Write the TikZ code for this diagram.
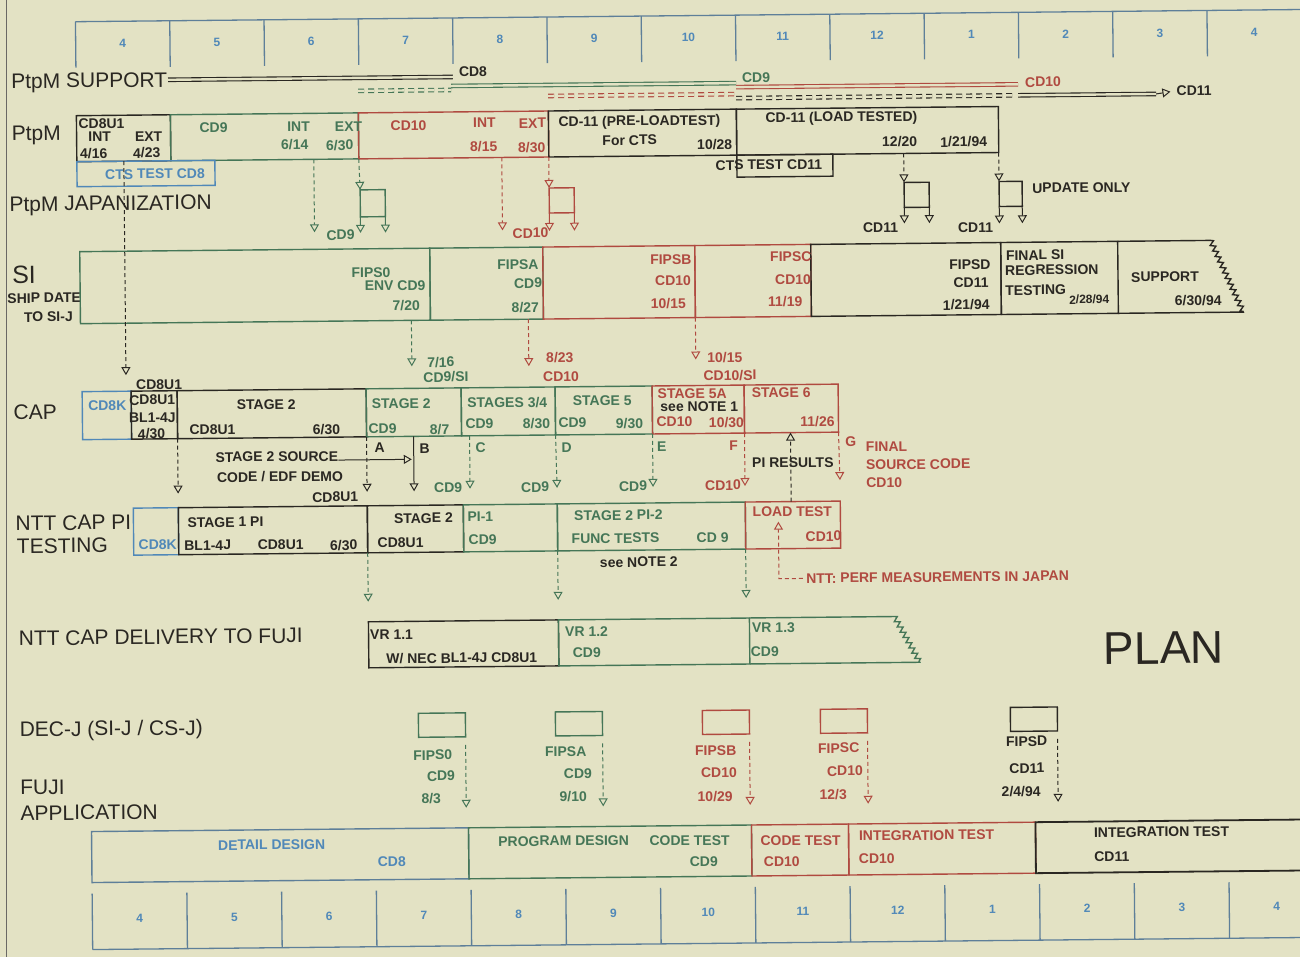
\documentclass[tikz,border=0pt]{standalone}
\usepackage{fontspec}
\setmainfont{Liberation Sans}
\usetikzlibrary{arrows.meta, calc, decorations.pathmorphing}
\definecolor{paper}{HTML}{E3E2C4}
\definecolor{inkDark}{HTML}{2A2722}
\definecolor{planGreen}{HTML}{457657}
\definecolor{planRed}{HTML}{B04A40}
\definecolor{planBlue}{HTML}{5088B8}
\definecolor{gridBlue}{HTML}{5E7F99}

\begin{document}
\begin{tikzpicture}[x=1pt, y=-1pt,
    seg/.style={rectangle, draw=#1, line width=1.4pt, inner sep=0pt,
                outer sep=0pt, anchor=north west},
    tx/.style={font=\fontsize{14}{15}\selectfont\bfseries, text=#1, inner sep=0pt},
    tx/.default=inkDark,
    row/.style={font=\fontsize{21}{23}\selectfont, text=inkDark, anchor=west,
                inner sep=0pt},
    mon/.style={font=\fontsize{12}{13}\selectfont\bfseries, text=planBlue,
                inner sep=0pt},
    lnk/.style={draw=#1, line width=1pt, dash pattern=on 4pt off 3pt,
                -{Triangle[open, length=8pt, width=9pt]}},
    arr/.style={draw=#1, line width=1pt,
                -{Triangle[open, length=8pt, width=9pt]}},
    dbl/.style={draw=#1, double=paper, double distance=2.4pt, line width=1.1pt},
    dbd/.style={dbl=#1, dash pattern=on 6pt off 4pt},
    zz/.style={decoration={zigzag, segment length=6pt, amplitude=2.5pt}},
  ]
  \useasboundingbox (0,0) rectangle (1300,957);
  \fill[paper] (0,0) rectangle (1300,957);
  \clip (0,0) rectangle (1300,957);
  \draw[inkDark!70, line width=1pt] (6,0) -- (6,957);

  \begin{scope}[rotate around={0.57:(650,478)}, transform shape]
  % month scales
  \draw[gridBlue, line width=1.3pt] (80,16) -- (1320,16);
  \foreach \m [count=\i from 0] in {4,5,6,7,8,9,10,11,12,1,2,3,4} {
    \draw[gridBlue, line width=1.3pt] ({80+94.3*\i},16) -- ({80+94.3*\i},62);
    \node[mon] (mt\i) at ({127+94.3*\i},38) {\m};
  }
  \draw[gridBlue, line width=1.3pt] (88,944) -- (1320,944);
  \foreach \m [count=\i from 0] in {4,5,6,7,8,9,10,11,12,1,2,3,4} {
    \draw[gridBlue, line width=1.3pt] ({88+94.75*\i},888) -- ({88+94.75*\i},944);
    \node[mon] (mb\i) at ({135.4+94.75*\i},913) {\m};
  }

  % row labels
  \node[row] (lsup) at (15,77) {PtpM SUPPORT};
  \node[row] (lptpm) at (15,129) {PtpM};
  \node[row] (ljap) at (12,200) {PtpM JAPANIZATION};
  \node[row, font=\fontsize{25}{26}\selectfont] (lsi) at (14,269) {SI};
  \node[tx] (lship) at (46,292) {SHIP DATE};
  \node[tx] (lto) at (50,311) {TO SI-J};
  \node[row] (lcap) at (14,406) {CAP};
  \node[row] (lntt) at (15,517) {NTT CAP PI};
  \node[row] (ltest) at (16,540) {TESTING};
  \node[row] (ldel) at (17,632) {NTT CAP DELIVERY TO FUJI};
  \node[row] (ldec) at (17,725) {DEC-J (SI-J / CS-J)};
  \node[row] (lfuji) at (17,781) {FUJI};
  \node[row] (lapp) at (17,807) {APPLICATION};
  \node[font=\fontsize{46}{48}\selectfont, text=inkDark, inner sep=0pt] (plan)
    at (1162,653) {PLAN};

  % PtpM support versions
  \coordinate (v8a) at (172,75);   \coordinate (v8b) at (457,75);
  \coordinate (v9a) at (362,88);   \coordinate (v9b) at (455,88);
  \coordinate (v9c) at (455,84);   \coordinate (v9d) at (740,84);
  \coordinate (v10a) at (552,95);  \coordinate (v10b) at (740,95);
  \coordinate (v10c) at (740,88);  \coordinate (v10d) at (1022,88);
  \coordinate (v11a) at (740,99);  \coordinate (v11b) at (1020,99);
  \coordinate (v11c) at (1022,99); \coordinate (v11d) at (1160,99);
  \draw[dbl=inkDark] (v8a) -- (v8b);
  \draw[dbd=planGreen] (v9a) -- (v9b);
  \draw[dbl=planGreen] (v9c) -- (v9d);
  \draw[dbd=planRed] (v10a) -- (v10b);
  \draw[dbl=planRed] (v10c) -- (v10d);
  \draw[dbd=inkDark] (v11a) -- (v11b);
  \draw[dbl=inkDark] (v11c) -- (v11d);
  \node[tx] (s8) at (477,70) {CD8};
  \node[tx=planGreen] (s9) at (760,79) {CD9};
  \node[tx=planRed] (s10) at (1047,86) {CD10};
  \node[tx] (s11) at (1198,96) {CD11};
  \draw[arr=inkDark, shorten >=6pt] (v11d) -- (s11.west);

  % PtpM
  \node[seg=inkDark, minimum width=94pt, minimum height=46pt] (pt1) at (80,110) {};
  \node[seg=planGreen, minimum width=188pt, minimum height=46pt] (pt2) at (174,110) {};
  \node[seg=planRed, minimum width=190pt, minimum height=46pt] (pt3) at (362,110) {};
  \node[seg=inkDark, minimum width=188pt, minimum height=46pt] (pt4) at (552,110) {};
  \node[seg=inkDark, minimum width=262pt, minimum height=46pt] (pt5) at (740,110) {};
  \node[seg=planBlue, minimum width=138pt, minimum height=25pt] (cts8) at (80,156) {};
  \node[seg=inkDark, minimum width=96pt, minimum height=22pt] (cts11) at (740,156) {};
  \node[tx] (p1a) at (105,118) {CD8U1};
  \node[tx] (p1b) at (103,131) {INT};
  \node[tx] (p1c) at (152,132) {EXT};
  \node[tx] (p1d) at (97,148) {4/16};
  \node[tx] (p1e) at (150,148) {4/23};
  \node[tx=planGreen] (p2a) at (217,123) {CD9};
  \node[tx=planGreen] (p2b) at (302,123) {INT};
  \node[tx=planGreen] (p2c) at (352,124) {EXT};
  \node[tx=planGreen] (p2d) at (298,141) {6/14};
  \node[tx=planGreen] (p2e) at (343,142) {6/30};
  \node[tx=planRed] (p3a) at (412,123) {CD10};
  \node[tx=planRed] (p3b) at (488,121) {INT};
  \node[tx=planRed] (p3c) at (536,122) {EXT};
  \node[tx=planRed] (p3d) at (487,145) {8/15};
  \node[tx=planRed] (p3e) at (535,146) {8/30};
  \node[tx] (p4a) at (643,122) {CD-11 (PRE-LOADTEST)};
  \node[tx] (p4b) at (633,140) {For CTS};
  \node[tx] (p4c) at (718,145) {10/28};
  \node[tx] (p5a) at (845,120) {CD-11 (LOAD TESTED)};
  \node[tx] (p5b) at (903,144) {12/20};
  \node[tx] (p5c) at (967,145) {1/21/94};
  \node[tx=planBlue] (c8t) at (158,169) {CTS TEST CD8};
  \node[tx] (c11t) at (772,166) {CTS TEST CD11};

  % PtpM japanization
  \node[seg=planGreen, minimum width=25pt, minimum height=27pt] (jp1) at (363,187) {};
  \node[seg=planRed, minimum width=25pt, minimum height=25pt] (jp2) at (552,187) {};
  \node[seg=inkDark, minimum width=25pt, minimum height=25pt] (jp3) at (907,185) {};
  \node[seg=inkDark, minimum width=23pt, minimum height=25pt] (jp4) at (1002,185) {};
  \coordinate (j9) at (317,229);
  \coordinate (j10) at (505,229);
  \coordinate (jg1) at (363,230);  \coordinate (jg2) at (388,230);
  \coordinate (jr1) at (552,230);  \coordinate (jr2) at (577,230);
  \coordinate (jk1) at (907,226);  \coordinate (jk2) at (932,226);
  \coordinate (ju1) at (1002,227); \coordinate (ju2) at (1025,227);
  \draw[lnk=planGreen] (pt2.south -| j9) -- (j9);
  \draw[lnk=planGreen] (pt3.south west) -- (jp1.north west);
  \draw[arr=planGreen] (jp1.south west) -- (jg1);
  \draw[arr=planGreen] (jp1.south east) -- (jg2);
  \draw[lnk=planRed] (pt3.south -| j10) -- (j10);
  \draw[lnk=planRed] (pt4.south west) -- (jp2.north west);
  \draw[arr=planRed] (jp2.south west) -- (jr1);
  \draw[arr=planRed] (jp2.south east) -- (jr2);
  \draw[lnk=inkDark] (pt5.south -| jp3.north west) -- (jp3.north west);
  \draw[arr=inkDark] (jp3.south west) -- (jk1);
  \draw[arr=inkDark] (jp3.south east) -- (jk2);
  \draw[lnk=inkDark] (pt5.south east) -- (jp4.north west);
  \draw[arr=inkDark] (jp4.south west) -- (ju1);
  \draw[arr=inkDark] (jp4.south east) -- (ju2);
  \node[tx=planGreen] (jl9) at (343,232) {CD9};
  \node[tx=planRed] (jl10) at (533,232) {CD10};
  \node[tx] (jl11a) at (883,230) {CD11};
  \node[tx] (jl11b) at (978,231) {CD11};
  \node[tx, anchor=west] (jupd) at (1035,192) {UPDATE ONLY};

  % SI
  \node[seg=planGreen, minimum width=350pt, minimum height=72pt] (si1) at (82,246) {};
  \node[seg=planGreen, minimum width=113pt, minimum height=72pt] (si2) at (432,246) {};
  \node[seg=planRed, minimum width=152pt, minimum height=72pt] (si3) at (545,246) {};
  \node[seg=planRed, minimum width=116pt, minimum height=72pt] (si4) at (697,246) {};
  \node[seg=inkDark, minimum width=190pt, minimum height=72pt] (si5) at (813,246) {};
  \node[seg=inkDark, minimum width=117pt, minimum height=72pt] (si6) at (1003,246) {};
  \coordinate (siz1) at (1213,246);
  \coordinate (siz2) at (1245,318);
  \draw[inkDark, line width=1.4pt] (si6.north east) -- (siz1)
    decorate[zz] {-- (siz2)} -- (si6.south east);
  \node[tx=planGreen] (f0a) at (373,270) {FIPS0};
  \node[tx=planGreen] (f0b) at (397,283) {ENV CD9};
  \node[tx=planGreen] (f0c) at (408,303) {7/20};
  \node[tx=planGreen] (faa) at (520,263) {FIPSA};
  \node[tx=planGreen] (fab) at (530,282) {CD9};
  \node[tx=planGreen] (fac) at (527,306) {8/27};
  \node[tx=planRed] (fba) at (673,260) {FIPSB};
  \node[tx=planRed] (fbb) at (675,281) {CD10};
  \node[tx=planRed] (fbc) at (670,304) {10/15};
  \node[tx=planRed] (fca) at (793,258) {FIPSC};
  \node[tx=planRed] (fcb) at (795,281) {CD10};
  \node[tx=planRed] (fcc) at (787,303) {11/19};
  \node[tx] (fda) at (972,268) {FIPSD};
  \node[tx] (fdb) at (973,286) {CD11};
  \node[tx] (fdc) at (968,308) {1/21/94};
  \node[tx, anchor=west] (rga) at (1008,259) {FINAL SI};
  \node[tx, anchor=west] (rgb) at (1007,274) {REGRESSION};
  \node[tx, anchor=west] (rgc) at (1007,294) {TESTING};
  \node[tx, font=\fontsize{12}{13}\selectfont\bfseries] (rgd) at (1091,304) {2/28/94};
  \node[tx] (spa) at (1167,282) {SUPPORT};
  \node[tx] (spb) at (1200,306) {6/30/94};

  % SI to CAP
  \coordinate (a716) at (413,364);
  \coordinate (a823) at (530,365);
  \coordinate (a1015) at (697,360);
  \draw[lnk=planGreen] (si1.south -| a716) -- (a716);
  \draw[lnk=planRed] (si2.south -| a823) -- (a823);
  \draw[lnk=planRed] (si3.south east) -- (a1015);
  \node[tx=planGreen] (l716) at (442,360) {7/16};
  \node[tx=planGreen] (l716b) at (447,375) {CD9/SI};
  \node[tx=planRed] (l823) at (561,357) {8/23};
  \node[tx=planRed] (l823b) at (562,376) {CD10};
  \node[tx=planRed] (l1015) at (726,358) {10/15};
  \node[tx=planRed] (l1015b) at (731,376) {CD10/SI};
  \coordinate (a8u) at (127,370);
  \draw[lnk=inkDark] (pt1.south) -- (a8u);
  \node[tx] (l8u) at (160,380) {CD8U1};

  % CAP
  \node[seg=planBlue, minimum width=49pt, minimum height=48pt] (cap0) at (83,386) {};
  \node[seg=inkDark, minimum width=46pt, minimum height=48pt] (cap1) at (132,386) {};
  \node[seg=inkDark, minimum width=189pt, minimum height=48pt] (cap2) at (178,386) {};
  \node[seg=planGreen, minimum width=95pt, minimum height=48pt] (cap3) at (367,386) {};
  \node[seg=planGreen, minimum width=94pt, minimum height=48pt] (cap4) at (462,386) {};
  \node[seg=planGreen, minimum width=97pt, minimum height=48pt] (cap5) at (556,386) {};
  \node[seg=planRed, minimum width=92pt, minimum height=48pt] (cap6) at (653,386) {};
  \node[seg=planRed, minimum width=94pt, minimum height=48pt] (cap7) at (745,386) {};
  \node[tx=planBlue] (k0) at (108,400) {CD8K};
  \node[tx] (k1a) at (153,395) {CD8U1};
  \node[tx] (k1b) at (153,413) {BL1-4J};
  \node[tx] (k1c) at (152,429) {4/30};
  \node[tx] (k2a) at (267,401) {STAGE 2};
  \node[tx] (k2b) at (213,425) {CD8U1};
  \node[tx] (k2c) at (327,426) {6/30};
  \node[tx=planGreen] (k3a) at (402,401) {STAGE 2};
  \node[tx=planGreen] (k3b) at (383,426) {CD9};
  \node[tx=planGreen] (k3c) at (440,427) {8/7};
  \node[tx=planGreen] (k4a) at (508,401) {STAGES 3/4};
  \node[tx=planGreen] (k4b) at (480,422) {CD9};
  \node[tx=planGreen] (k4c) at (537,422) {8/30};
  \node[tx=planGreen] (k5a) at (603,400) {STAGE 5};
  \node[tx=planGreen] (k5b) at (573,422) {CD9};
  \node[tx=planGreen] (k5c) at (630,423) {9/30};
  \node[tx=planRed] (k6a) at (693,394) {STAGE 5A};
  \node[tx] (k6b) at (700,407) {see NOTE 1};
  \node[tx=planRed] (k6c) at (675,422) {CD10};
  \node[tx=planRed] (k6d) at (727,423) {10/30};
  \node[tx=planRed] (k7a) at (782,394) {STAGE 6};
  \node[tx=planRed] (k7b) at (818,423) {11/26};

  % CAP to PI testing
  \coordinate (aS1) at (178,489);
  \coordinate (aA) at (367,489);
  \coordinate (aB) at (414,489);
  \coordinate (aC) at (470,487);
  \coordinate (aD) at (557,487);
  \coordinate (aE) at (653,487);
  \coordinate (aF) at (745,487);
  \coordinate (aG) at (840,482);
  \coordinate (bjoin) at (412,457);
  \coordinate (piR) at (791,470);
  \node[tx] (src1) at (277,453) {STAGE 2 SOURCE};
  \node[tx] (src2) at (280,473) {CODE / EDF DEMO};
  \draw[lnk=inkDark] (cap1.south east) -- (aS1);
  \draw[lnk=inkDark] (cap2.south east) -- (aA);
  \draw[arr=inkDark] (cap3.south -| aB) -- (aB);
  \draw[arr=inkDark] (bjoin -| src1.east) -- (bjoin);
  \draw[lnk=planGreen] (cap4.south -| aC) -- (aC);
  \draw[lnk=planGreen] (cap5.south west) -- (aD);
  \draw[lnk=planGreen] (cap6.south west) -- (aE);
  \draw[lnk=planRed] (cap7.south west) -- (aF);
  \draw[lnk=planRed] (cap7.south east) -- (aG);
  \node[tx] (lA) at (380,445) {A};
  \node[tx] (lB) at (425,446) {B};
  \node[tx=planGreen] (lC) at (481,446) {C};
  \node[tx=planGreen] (lD) at (567,447) {D};
  \node[tx=planGreen] (lE) at (662,447) {E};
  \node[tx=planRed] (lF) at (734,446) {F};
  \node[tx=planRed] (lG) at (851,444) {G};
  \node[tx] (lpir) at (793,464) {PI RESULTS};
  \node[tx=planRed, anchor=west] (lfin1) at (866,449) {FINAL};
  \node[tx=planRed, anchor=west] (lfin2) at (866,467) {SOURCE CODE};
  \node[tx=planRed, anchor=west] (lfin3) at (866,485) {CD10};
  \node[tx] (lu1) at (335,494) {CD8U1};
  \node[tx=planGreen] (l9a) at (448,486) {CD9};
  \node[tx=planGreen] (l9b) at (535,486) {CD9};
  \node[tx=planGreen] (l9c) at (633,486) {CD9};
  \node[tx=planRed] (l10a) at (723,486) {CD10};

  % NTT CAP PI testing
  \node[seg=planBlue, minimum width=45pt, minimum height=47pt] (pi0) at (133,503) {};
  \node[seg=inkDark, minimum width=189pt, minimum height=47pt] (pi1) at (178,503) {};
  \node[seg=inkDark, minimum width=96pt, minimum height=47pt] (pi2) at (367,503) {};
  \node[seg=planGreen, minimum width=94pt, minimum height=47pt] (pi3) at (463,503) {};
  \node[seg=planGreen, minimum width=188pt, minimum height=47pt] (pi4) at (557,503) {};
  \node[seg=planRed, minimum width=95pt, minimum height=47pt] (pi5) at (745,503) {};
  \draw[lnk=inkDark] (pi5.north -| piR) -- (cap7.south -| piR);
  \node[tx=planBlue] (q0) at (157,540) {CD8K};
  \node[tx] (q1a) at (225,518) {STAGE 1 PI};
  \node[tx] (q1b) at (207,541) {BL1-4J};
  \node[tx] (q1c) at (280,541) {CD8U1};
  \node[tx] (q1d) at (343,542) {6/30};
  \node[tx] (q2a) at (423,516) {STAGE 2};
  \node[tx] (q2b) at (400,540) {CD8U1};
  \node[tx=planGreen] (q3a) at (480,515) {PI-1};
  \node[tx=planGreen] (q3b) at (482,538) {CD9};
  \node[tx=planGreen] (q4a) at (618,515) {STAGE 2 PI-2};
  \node[tx=planGreen] (q4b) at (615,538) {FUNC TESTS};
  \node[tx=planGreen] (q4c) at (712,538) {CD 9};
  \node[tx=planRed] (q5a) at (792,513) {LOAD TEST};
  \node[tx=planRed] (q5b) at (823,538) {CD10};
  \node[tx] (note2) at (638,562) {see NOTE 2};
  \node[tx=planRed, anchor=west] (perf) at (805,580) {NTT: PERF MEASUREMENTS IN JAPAN};
  \coordinate (perfup) at (778,523);
  \draw[lnk=planRed, shorten <=3pt] (perf.west) -| (perfup);

  % PI testing to delivery
  \coordinate (d1) at (367,599);
  \coordinate (d2) at (557,599);
  \coordinate (d3) at (745,599);
  \draw[lnk=planGreen] (pi2.south west) -- (d1);
  \draw[lnk=planGreen] (pi4.south west) -- (d2);
  \draw[lnk=planGreen] (pi5.south west) -- (d3);

  % NTT CAP delivery to Fuji
  \node[seg=inkDark, minimum width=190pt, minimum height=46pt] (vr1) at (367,619) {};
  \node[seg=planGreen, minimum width=191pt, minimum height=46pt] (vr2) at (557,619) {};
  \coordinate (vrz1) at (893,619);
  \coordinate (vrz2) at (918,665);
  \draw[planGreen, line width=1.4pt] (vr2.north east) -- (vrz1)
    decorate[zz] {-- (vrz2)} -- (vr2.south east);
  \node[tx] (w1a) at (390,632) {VR 1.1};
  \node[tx] (w1b) at (460,656) {W/ NEC BL1-4J CD8U1};
  \node[tx=planGreen] (w2a) at (585,631) {VR 1.2};
  \node[tx=planGreen] (w2b) at (585,652) {CD9};
  \node[tx=planGreen] (w3a) at (772,629) {VR 1.3};
  \node[tx=planGreen] (w3b) at (763,653) {CD9};

  % DEC-J drops
  \node[seg=planGreen, minimum width=47pt, minimum height=24pt] (dj1) at (416,711) {};
  \node[seg=planGreen, minimum width=47pt, minimum height=24pt] (dj2) at (553,711) {};
  \node[seg=planRed, minimum width=47pt, minimum height=24pt] (dj3) at (700,711) {};
  \node[seg=planRed, minimum width=47pt, minimum height=24pt] (dj4) at (818,711) {};
  \node[seg=inkDark, minimum width=47pt, minimum height=24pt] (dj5) at (1008,711) {};
  \coordinate (f1) at (463,806);
  \coordinate (f2) at (600,806);
  \coordinate (f3) at (747,806);
  \coordinate (f4) at (865,806);
  \coordinate (f5) at (1055,806);
  \draw[lnk=planGreen, shorten <=8pt] (dj1.south east) -- (f1);
  \draw[lnk=planGreen, shorten <=8pt] (dj2.south east) -- (f2);
  \draw[lnk=planRed, shorten <=8pt] (dj3.south east) -- (f3);
  \draw[lnk=planRed, shorten <=8pt] (dj4.south east) -- (f4);
  \draw[lnk=inkDark, shorten <=8pt] (dj5.south east) -- (f5);
  \node[tx=planGreen] (g1a) at (430,753) {FIPS0};
  \node[tx=planGreen] (g1b) at (438,774) {CD9};
  \node[tx=planGreen] (g1c) at (428,796) {8/3};
  \node[tx=planGreen] (g2a) at (563,751) {FIPSA};
  \node[tx=planGreen] (g2b) at (575,773) {CD9};
  \node[tx=planGreen] (g2c) at (570,796) {9/10};
  \node[tx=planRed] (g3a) at (713,751) {FIPSB};
  \node[tx=planRed] (g3b) at (716,773) {CD10};
  \node[tx=planRed] (g3c) at (712,797) {10/29};
  \node[tx=planRed] (g4a) at (836,750) {FIPSC};
  \node[tx=planRed] (g4b) at (842,773) {CD10};
  \node[tx=planRed] (g4c) at (830,796) {12/3};
  \node[tx] (g5a) at (1024,745) {FIPSD};
  \node[tx] (g5b) at (1024,772) {CD11};
  \node[tx] (g5c) at (1018,795) {2/4/94};

  % Fuji application
  \node[seg=gridBlue, minimum width=377pt, minimum height=51pt] (fa1) at (88,826) {};
  \node[seg=planGreen, minimum width=283pt, minimum height=51pt] (fa2) at (465,826) {};
  \node[seg=planRed, minimum width=97pt, minimum height=51pt] (fa3) at (748,826) {};
  \node[seg=planRed, minimum width=187pt, minimum height=51pt] (fa4) at (845,826) {};
  \node[seg=inkDark, line width=1.8pt, minimum width=290pt, minimum height=51pt] (fa5) at (1032,826) {};
  \node[tx=planBlue] (h1a) at (268,841) {DETAIL DESIGN};
  \node[tx=planBlue] (h1b) at (388,859) {CD8};
  \node[tx=planGreen] (h2a) at (560,840) {PROGRAM DESIGN};
  \node[tx=planGreen] (h2b) at (686,841) {CODE TEST};
  \node[tx=planGreen] (h2c) at (700,862) {CD9};
  \node[tx=planRed] (h3a) at (797,842) {CODE TEST};
  \node[tx=planRed] (h3b) at (778,863) {CD10};
  \node[tx=planRed] (h4a) at (923,838) {INTEGRATION TEST};
  \node[tx=planRed] (h4b) at (873,861) {CD10};
  \node[tx] (h5a) at (1158,837) {INTEGRATION TEST};
  \node[tx] (h5b) at (1108,861) {CD11};
  \end{scope}
\end{tikzpicture}
\end{document}
